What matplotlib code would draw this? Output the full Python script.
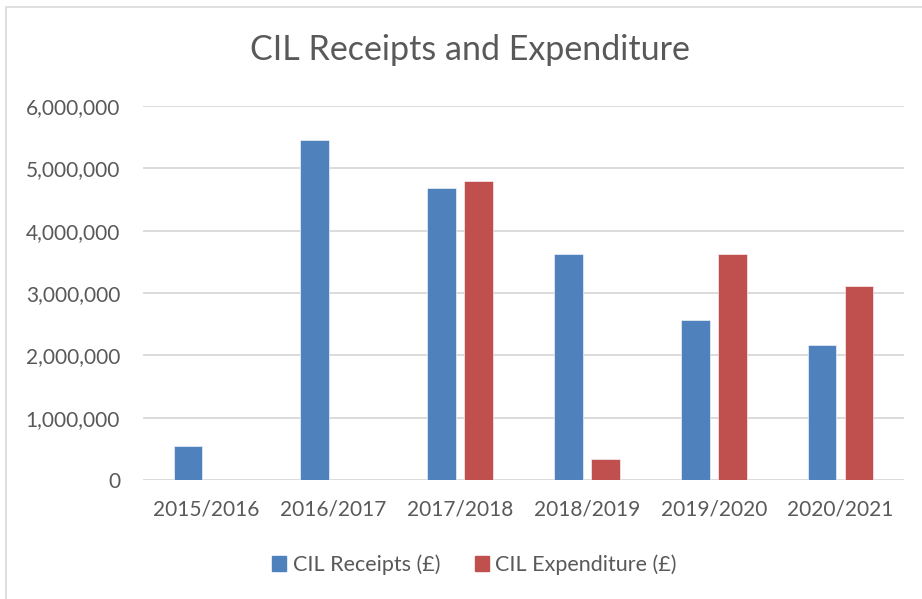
import numpy as np
import matplotlib
matplotlib.use("Agg")
import matplotlib.pyplot as plt
from matplotlib.patches import Rectangle, Patch
from matplotlib.ticker import FuncFormatter

years = ["2015/2016", "2016/2017", "2017/2018", "2018/2019", "2019/2020", "2020/2021"]
receipts = [550000, 5450000, 4680000, 3620000, 2570000, 2170000]
expenditure = [0, 0, 4800000, 340000, 3630000, 3110000]

blue = "#4F81BD"
red = "#C0504D"
grey_text = "#595959"
grid_col = "#D9D9D9"

plt.rcParams['font.family'] = ['Lato', 'DejaVu Sans']

W, H = 922, 599
fig = plt.figure(figsize=(W / 100, H / 100), dpi=100)
ax = fig.add_axes([143 / W, (H - 480) / H, (904 - 143) / W, (480 - 106) / H])

x = np.arange(len(years))
bw = 0.225
off = 0.146
ax.bar(x - off, receipts, bw, color=blue, edgecolor="#FFFFFF", linewidth=0.4, zorder=3)
ax.bar(x + off, expenditure, bw, color=red, edgecolor="#FFFFFF", linewidth=0.4, zorder=3)

ax.set_xlim(-0.5, len(years) - 0.5)
ax.set_ylim(0, 6000000)
ax.set_yticks(np.arange(0, 6000001, 1000000))
ax.yaxis.set_major_formatter(FuncFormatter(lambda v, p: f"{int(v):,}"))
ax.set_xticks(x)
ax.set_xticklabels(years)
ax.grid(axis="y", color=grid_col, linewidth=1.3, zorder=0)
for s in ax.spines.values():
    s.set_visible(False)
ax.tick_params(length=0, labelsize=15, colors=grey_text)
ax.tick_params(axis="y", pad=16.5)
ax.tick_params(axis="x", pad=14)

fig.text(470 / W, 1 - 50 / H, "CIL Receipts and Expenditure", ha="center", va="center",
         fontsize=24.5, color=grey_text)

handles = [Patch(color=blue, label="CIL Receipts (£)"), Patch(color=red, label="CIL Expenditure (£)")]
fig.legend(handles=handles, loc="center", bbox_to_anchor=(474.5 / W, 1 - 565 / H), ncol=2,
           frameon=False, fontsize=15.5, labelcolor=grey_text, handlelength=0.65, handleheight=0.7,
           handletextpad=0.3, columnspacing=1.6)

fig.add_artist(Rectangle((6 / W, -0.1), 2, 1 - 7 / H + 0.1, fill=False, edgecolor=grid_col,
                         linewidth=1.2, transform=fig.transFigure))

fig.savefig("out.png", dpi=100)
